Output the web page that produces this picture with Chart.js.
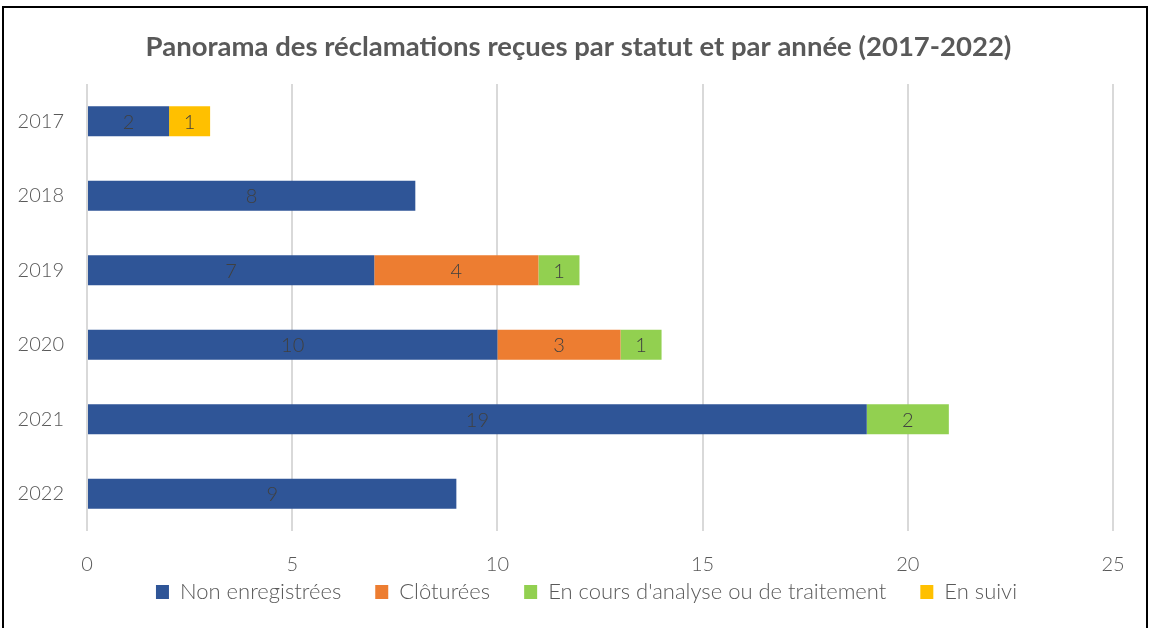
<!DOCTYPE html>
<html>
<head>
<meta charset="utf-8">
<script src="https://cdn.jsdelivr.net/npm/chart.js@4/dist/chart.umd.min.js"></script>
<style>
  html, body { margin:0; padding:0; background:#fff; }
  #wrap { position:relative; width:1151px; height:628px; overflow:hidden; }
  #frame { position:absolute; left:2px; top:6px; width:1142px; height:700px; border:2px solid #000; pointer-events:none; }
</style>
</head>
<body>
<div id="wrap">
  <canvas id="c" width="1151" height="628"></canvas>
  <div id="frame"></div>
</div>
<script>
const years = ["2017", "2018", "2019", "2020", "2021", "2022"];
const nonEnregistrees = [2, 8, 7, 10, 19, 9];
const cloturees = [null, null, 4, 3, null, null];
const enCours = [null, null, 1, 1, 2, null];
const enSuivi = [1, null, null, null, null, null];
const xTicks = [0, 5, 10, 15, 20, 25];

const FONT = "Lato, 'Open Sans', sans-serif";
const GREY = "#595959";

// labels centred in each bar segment
const barLabels = {
  id: "barLabels",
  afterDatasetsDraw(chart){
    const ctx = chart.ctx;
    ctx.save();
    ctx.font = "300 20px " + FONT;
    ctx.fillStyle = "#404040";
    ctx.textAlign = "center";
    ctx.textBaseline = "middle";
    chart.data.datasets.forEach((ds, i)=>{
      const meta = chart.getDatasetMeta(i);
      meta.data.forEach((el, j)=>{
        const v = ds.data[j];
        if(v == null) return;
        ctx.fillText(String(v), (el.x + el.base)/2, el.y + 1);
      });
    });
    ctx.restore();
  }
};

// legend padding is shared by the gaps and the box height: keep the box short
// title and legend are centred on the whole frame, not on the plot
const shiftBlocks = {
  id: "shiftBlocks",
  beforeLayout(chart){
    const lg = chart.legend;
    if(lg && !lg._fixed){
      const fit = lg.fit.bind(lg);
      lg.fit = function(){ fit(); this.height = 42; };
      lg._fixed = true;
    }
  },
  afterLayout(chart){
    if(chart.titleBlock){ chart.titleBlock.left += 22; chart.titleBlock.right += 22; }
    if(chart.legend){
      chart.legend.left += 30; chart.legend.right += 30;
      chart.legend.top -= 24;
    }
  }
};

new Chart(document.getElementById("c"), {
  type: "bar",
  data: {
    labels: years,
    datasets: [
      { label:"Non enregistrées", data: nonEnregistrees, backgroundColor:"#2F5597" },
      { label:"Clôturées", data: cloturees, backgroundColor:"#ED7D31" },
      { label:"En cours d'analyse ou de traitement", data: enCours, backgroundColor:"#92D050" },
      { label:"En suivi", data: enSuivi, backgroundColor:"#FFC000" }
    ]
  },
  options: {
    indexAxis: "y",
    responsive: false,
    animation: false,
    layout: { padding: { top: 20, left: 0, right: 38, bottom: 15 } },
    datasets: { bar: { categoryPercentage: 1, barPercentage: 0.4, borderWidth: 0 } },
    scales: {
      x: {
        stacked: true, min: 0, max: 25,
        afterBuildTicks(scale){ scale.ticks = xTicks.map(v=>({value:v})); },
        grid: { color:"#d9d9d9", lineWidth:2, drawTicks:false },
        border: { display:false },
        ticks: { color: GREY, font:{ family: FONT, size: 20, weight: 300 }, padding: 22 },
        afterFit(scale){ scale.height = 40; }
      },
      y: {
        stacked: true,
        grid: { display:false, drawTicks:false },
        border: { display:false },
        ticks: { color: GREY, font:{ family: FONT, size: 20, weight: 300 }, padding: 23 },
        afterFit(scale){ scale.width = 87; }
      }
    },
    plugins: {
      title: {
        display: true,
        text: "Panorama des réclamations reçues par statut et par année (2017-2022)",
        color: GREY,
        font: { family: FONT, size: 27.5, weight: "bold" },
        padding: { top: 11, bottom: 20 }
      },
      legend: {
        position: "bottom",
        labels: { color: GREY, font:{ family: FONT, size: 22, weight: 300 }, boxWidth: 13, boxHeight: 14, padding: 34 }
      },
      tooltip: { enabled:false }
    }
  },
  plugins: [barLabels, shiftBlocks]
});
</script>
</body>
</html>
